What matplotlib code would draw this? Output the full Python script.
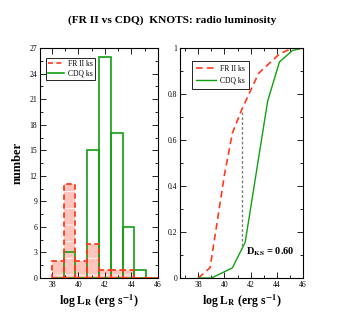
import numpy as np
import matplotlib
matplotlib.use("Agg")
import matplotlib.pyplot as plt
from matplotlib.ticker import MultipleLocator, FuncFormatter

plt.rcParams['font.family'] = ['Liberation Serif', 'DejaVu Serif']
plt.rcParams['mathtext.fontset'] = 'stix'
plt.rcParams['hatch.linewidth'] = 0.6

# histogram bins (log L_R) and counts
bin_lo = [38.0, 38.889, 39.778, 40.667, 41.556, 42.444, 43.333, 44.222, 45.111]
bin_w = 0.889
frii_counts = [2, 11, 2, 4, 1, 1, 1, 0, 0]
cdq_counts = [0, 3, 0, 15, 26, 17, 6, 1, 0]

# cumulative distributions
frii_x = [38.0, 38.9, 40.0, 40.6, 41.3, 42.6, 44.2, 45.2, 46.0]
frii_y = [0.0, 0.045, 0.45, 0.63, 0.73, 0.89, 0.975, 1.0, 1.0]
cdq_x = [38.0, 39.0, 40.6, 41.58, 43.3, 44.2, 45.2, 46.0]
cdq_y = [0.0, 0.0, 0.044, 0.155, 0.77, 0.94, 0.99, 1.0]

ks_x = 41.3
ks_lo, ks_hi = 0.14, 0.73
ks_text = r'D$_{\mathbf{KS}}$ = 0.60'

red = '#ff3a1c'
pink = '#ffc4bc'
green = '#12a012'

fig = plt.figure(figsize=(3.43, 3.27), dpi=100)
ax1 = fig.add_axes([0.1166, 0.1498, 0.344, 0.703])
ax2 = fig.add_axes([0.5248, 0.1498, 0.3586, 0.703])

# left: histograms
ax1.bar(bin_lo, frii_counts, width=bin_w, align='edge', color=pink,
        edgecolor='white', linewidth=0, hatch='-', zorder=1)
ax1.bar(bin_lo, cdq_counts, width=bin_w, align='edge', fill=False,
        edgecolor=green, linewidth=1.2, zorder=2)
ax1.bar(bin_lo, frii_counts, width=bin_w, align='edge', fill=False,
        edgecolor=red, linewidth=1.3, linestyle=(0, (3, 2)), zorder=3)
ax1.plot([], [], color=red, lw=1.2, ls=(0, (3, 2)), label='FR II ks')
ax1.plot([], [], color=green, lw=1.2, label='CDQ ks')
ax1.set_xlim(37.1, 46)
ax1.set_ylim(0, 27)
ax1.xaxis.set_major_locator(MultipleLocator(2))
ax1.xaxis.set_minor_locator(MultipleLocator(1))
ax1.yaxis.set_major_locator(MultipleLocator(3))
ax1.yaxis.set_minor_locator(MultipleLocator(1.5))
ax1.set_ylabel('number', fontsize=9, fontweight='bold', labelpad=4)

# right: cumulative distributions
ax2.plot(frii_x, frii_y, color=red, lw=1.2, ls=(0, (4, 2.5)), label='FR II ks')
ax2.plot(cdq_x, cdq_y, color=green, lw=1.0, label='CDQ ks')
ax2.plot([ks_x, ks_x], [ks_lo, ks_hi], color='#808080', lw=1.0,
         ls=(0, (2, 1.5)))
ax2.text(41.62, 0.115, ks_text, fontsize=7.5, fontweight='bold', va='center')
ax2.set_xlim(36.6, 46)
ax2.set_ylim(0, 1)
ax2.xaxis.set_major_locator(MultipleLocator(2))
ax2.xaxis.set_minor_locator(MultipleLocator(1))
ax2.yaxis.set_major_locator(MultipleLocator(0.2))
ax2.yaxis.set_minor_locator(MultipleLocator(0.1))
ax2.yaxis.set_major_formatter(FuncFormatter(lambda v, p: '%g' % v))

xlab = r'log L$_{\mathbf{R}}$ (erg s$^{\mathbf{-1}}$)'
for ax in (ax1, ax2):
    ax.set_xlabel(xlab, fontsize=8.5, fontweight='bold', labelpad=3)
    ax.tick_params(which='both', direction='in', top=True, right=True,
                   labelsize=5.5, width=0.6, pad=2)
    ax.tick_params(which='major', length=4)
    ax.tick_params(which='minor', length=2)
    for s in ax.spines.values():
        s.set_linewidth(0.8)

ax1.legend(loc='upper left', bbox_to_anchor=(0.02, 0.975), fontsize=5.5,
           frameon=True, fancybox=False, edgecolor='black', framealpha=1,
           handlelength=2.0, borderpad=0.3, labelspacing=0.2,
           handletextpad=0.5).get_frame().set_linewidth(0.6)
ax2.legend(loc='upper left', bbox_to_anchor=(0.07, 0.96), fontsize=5.5,
           frameon=True, fancybox=False, edgecolor='black', framealpha=1,
           handlelength=2.6, borderpad=0.5, labelspacing=0.5,
           handletextpad=0.5).get_frame().set_linewidth(0.6)

fig.text(0.502, 0.938, '(FR II vs CDQ)  KNOTS: radio luminosity',
         ha='center', va='center', fontsize=8.2, fontweight='bold')

fig.savefig('out.png', dpi=100)
